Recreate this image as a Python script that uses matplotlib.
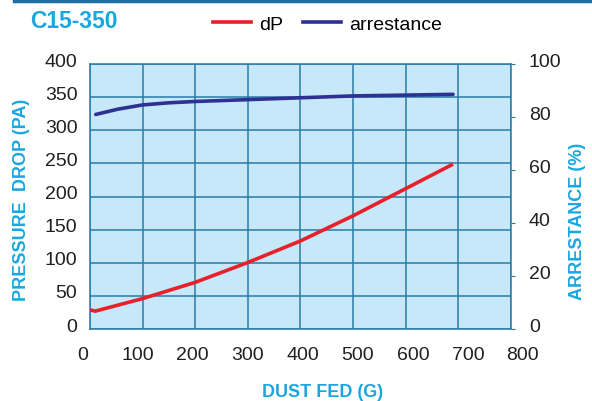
import matplotlib
matplotlib.use('Agg')
import matplotlib.pyplot as plt
import matplotlib.transforms as mtransforms
from matplotlib.lines import Line2D

plt.rcParams['font.family'] = ['Liberation Sans', 'DejaVu Sans']

# data
dust_fed = [0, 10, 100, 200, 300, 400, 500, 600, 690]
dp = [29, 27, 46, 70.5, 100.5, 133, 171, 212, 249]

dust_fed_arr = [11, 53, 100, 150, 200, 300, 400, 500, 600, 690]
arrestance = [81.0, 83.0, 84.6, 85.4, 85.9, 86.6, 87.3, 88.0, 88.3, 88.6]

x_ticks = [0, 100, 200, 300, 400, 500, 600, 700, 800]
y_ticks = [0, 50, 100, 150, 200, 250, 300, 350, 400]
y2_ticks = [0, 20, 40, 60, 80, 100]

cyan = '#1AA7E0'
grid_c = '#2A7BA8'
red = '#E8202A'
navy = '#2E3192'
txt = '#231F20'

fig = plt.figure(figsize=(5.92, 4.02), dpi=100)
ax = fig.add_axes([0.152, 0.179, 0.711, 0.659])
ax.set_facecolor('#C6E8F8')

ax.plot(dust_fed, dp, color=red, lw=2.6, solid_capstyle='butt', zorder=3)
ax.set_xlim(0, 800)
ax.set_ylim(0, 400)
ax.set_xticks(x_ticks)
ax.set_yticks(y_ticks)
ax.grid(True, color=grid_c, lw=1.1)
ax.set_axisbelow(True)
for s in ax.spines.values():
    s.set_color(grid_c)
    s.set_linewidth(1.1)
ax.tick_params(axis='both', length=0, labelsize=14, colors=txt)
ax.tick_params(axis='x', pad=12)
ax.tick_params(axis='y', pad=9)

# the printed labels sit a little off the grid lines
for i, lab in enumerate(ax.get_xticklabels()):
    dx = (i - 3) * 2.4 / 100
    lab.set_transform(lab.get_transform() + mtransforms.ScaledTranslation(dx, 0, fig.dpi_scale_trans))
for lab in ax.get_yticklabels():
    lab.set_transform(lab.get_transform() + mtransforms.ScaledTranslation(0, 0.05, fig.dpi_scale_trans))

ax2 = ax.twinx()
ax2.plot(dust_fed_arr, arrestance, color=navy, lw=2.6, solid_capstyle='round', zorder=3)
ax2.set_ylim(0, 100)
ax2.set_yticks(y2_ticks)
ax2.tick_params(axis='y', length=3, color=grid_c, direction='out', labelsize=14,
                labelcolor=txt, pad=10)
for s in ax2.spines.values():
    s.set_visible(False)
for lab in ax2.get_yticklabels():
    lab.set_transform(lab.get_transform() + mtransforms.ScaledTranslation(0, 0.05, fig.dpi_scale_trans))

fig.text(22 / 592, 1 - 200 / 402, 'PRESSURE  DROP (PA)', color=cyan, fontsize=13,
         fontweight='bold', rotation=90, ha='center', va='center')
fig.text(577 / 592, 1 - 221 / 402, 'ARRESTANCE (%)', color=cyan, fontsize=13,
         fontweight='bold', rotation=90, ha='center', va='center')
fig.text(323 / 592, 1 - 393 / 402, 'DUST FED (G)', color=cyan, fontsize=13,
         fontweight='bold', ha='center', va='center')

fig.text(30 / 592, 1 - 21 / 402, 'C15-350', color=cyan, fontsize=16.5, fontweight='bold',
         va='center')

handles = [Line2D([], [], color=red, lw=2.6), Line2D([], [], color=navy, lw=2.6)]
fig.legend(handles, ['dP', 'arrestance'], loc='center', bbox_to_anchor=(0.553, 0.938),
           ncol=2, frameon=False, fontsize=14, handlelength=1.95, columnspacing=1.0,
           handletextpad=0.42, borderpad=0)

fig.add_artist(Line2D([14 / 592, 1.0], [0.996, 0.996], color='#1E6FA8', lw=2.5))

fig.savefig('out.png', dpi=100)
